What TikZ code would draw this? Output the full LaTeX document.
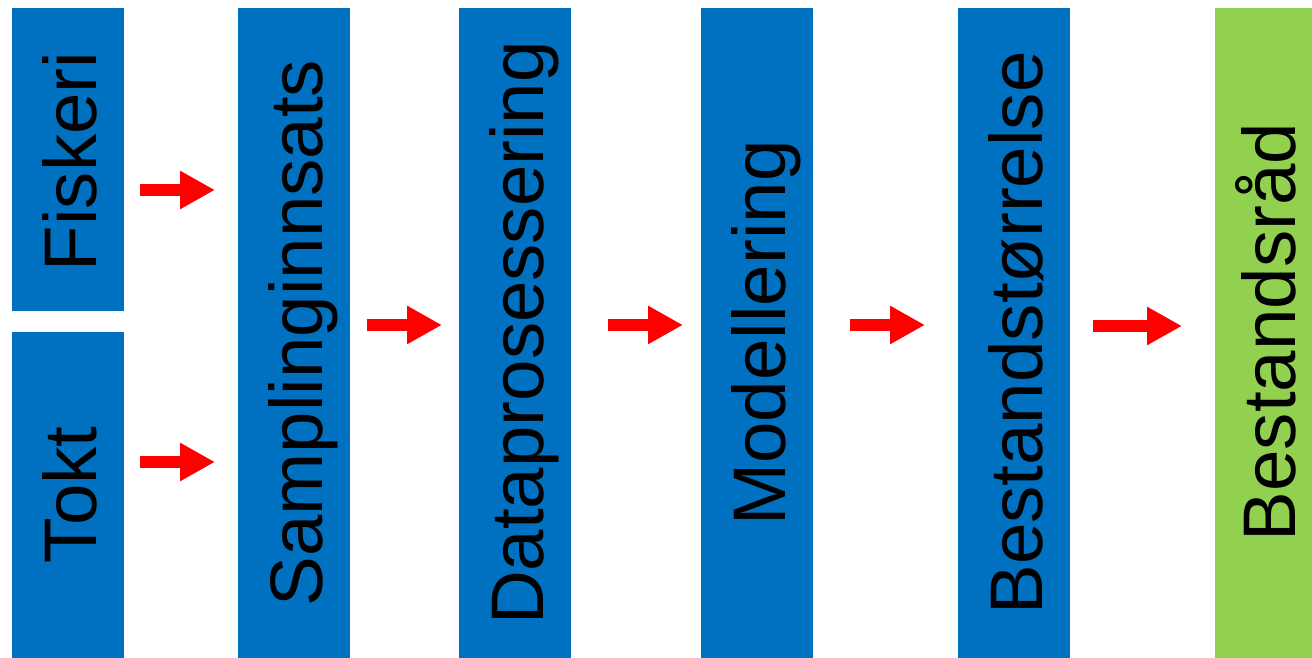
\documentclass[tikz,border=0pt]{standalone}
\usepackage{fontspec}
\setmainfont{Liberation Sans}
\usetikzlibrary{arrows.meta}
\definecolor{boxblue}{HTML}{0070C0}
\definecolor{boxgreen}{HTML}{92D050}
\definecolor{arrred}{HTML}{FF0000}
\tikzset{
  stage/.style={draw=none, fill=boxblue, minimum width=112pt, inner sep=0pt, outer sep=0pt},
  final/.style={stage, fill=boxgreen},
  lbl/.style={rotate=90, anchor=base, inner sep=0pt, text depth=0pt, font=\fontsize{74.5}{80}\selectfont, text=black},
  arr/.style={draw=arrred, line width=12pt, -{Triangle[length=35pt,width=36pt]}}
}
\begin{document}
\begin{tikzpicture}[x=1pt,y=1pt]
\useasboundingbox (0,0) rectangle (1312,658);
\node[stage, minimum width=111.5pt, minimum height=303pt] (fiskeri) at (67.75,498.5) {};
\node[stage, minimum width=111.5pt, minimum height=326pt] (tokt) at (67.75,163) {};
\node[stage, minimum height=650pt] (sampling) at (294,325) {};
\node[stage, minimum height=650pt] (data) at (515,325) {};
\node[stage, minimum height=650pt] (model) at (757,325) {};
\node[stage, minimum height=650pt] (bestst) at (1014,325) {};
\node[final, minimum width=97pt, minimum height=650pt] (bestr) at (1263.5,325) {};

\node[lbl] (tfiskeri) at ([xshift=-27pt,yshift=-2pt]fiskeri.east) {Fiskeri};
\node[lbl] (ttokt) at ([xshift=-27pt]tokt.east) {Tokt};
\node[lbl] (tsampling) at ([xshift=-28pt]sampling.east) {Samplinginnsats};
\node[lbl] (tdata) at ([xshift=-28pt]data.east) {Dataprosessering};
\node[lbl] (tmodel) at ([xshift=-28pt]model.east) {Modellering};
\node[lbl] (tbestst) at ([xshift=-28pt]bestst.east) {Bestandstørrelse};
\node[lbl] (tbestr) at ([xshift=80pt,yshift=1pt]bestr.west) {Bestandsråd};

\draw[arr] ([xshift=16.5pt]fiskeri.east |- 0,468) -- ([xshift=-23pt]sampling.west |- 0,468);
\draw[arr] ([xshift=16.5pt]tokt.east |- 0,196) -- ([xshift=-23pt]sampling.west |- 0,196);
\draw[arr] ([xshift=17pt]sampling.east |- 0,333) -- ([xshift=-17pt]data.west |- 0,333);
\draw[arr] ([xshift=37pt]data.east |- 0,333) -- ([xshift=-18pt]model.west |- 0,333);
\draw[arr] ([xshift=37pt]model.east |- 0,333) -- ([xshift=-33pt]bestst.west |- 0,333);
\draw[arr] ([xshift=23pt]bestst.east |- 0,332) -- ([xshift=-33pt]bestr.west |- 0,332);
\end{tikzpicture}
\end{document}
